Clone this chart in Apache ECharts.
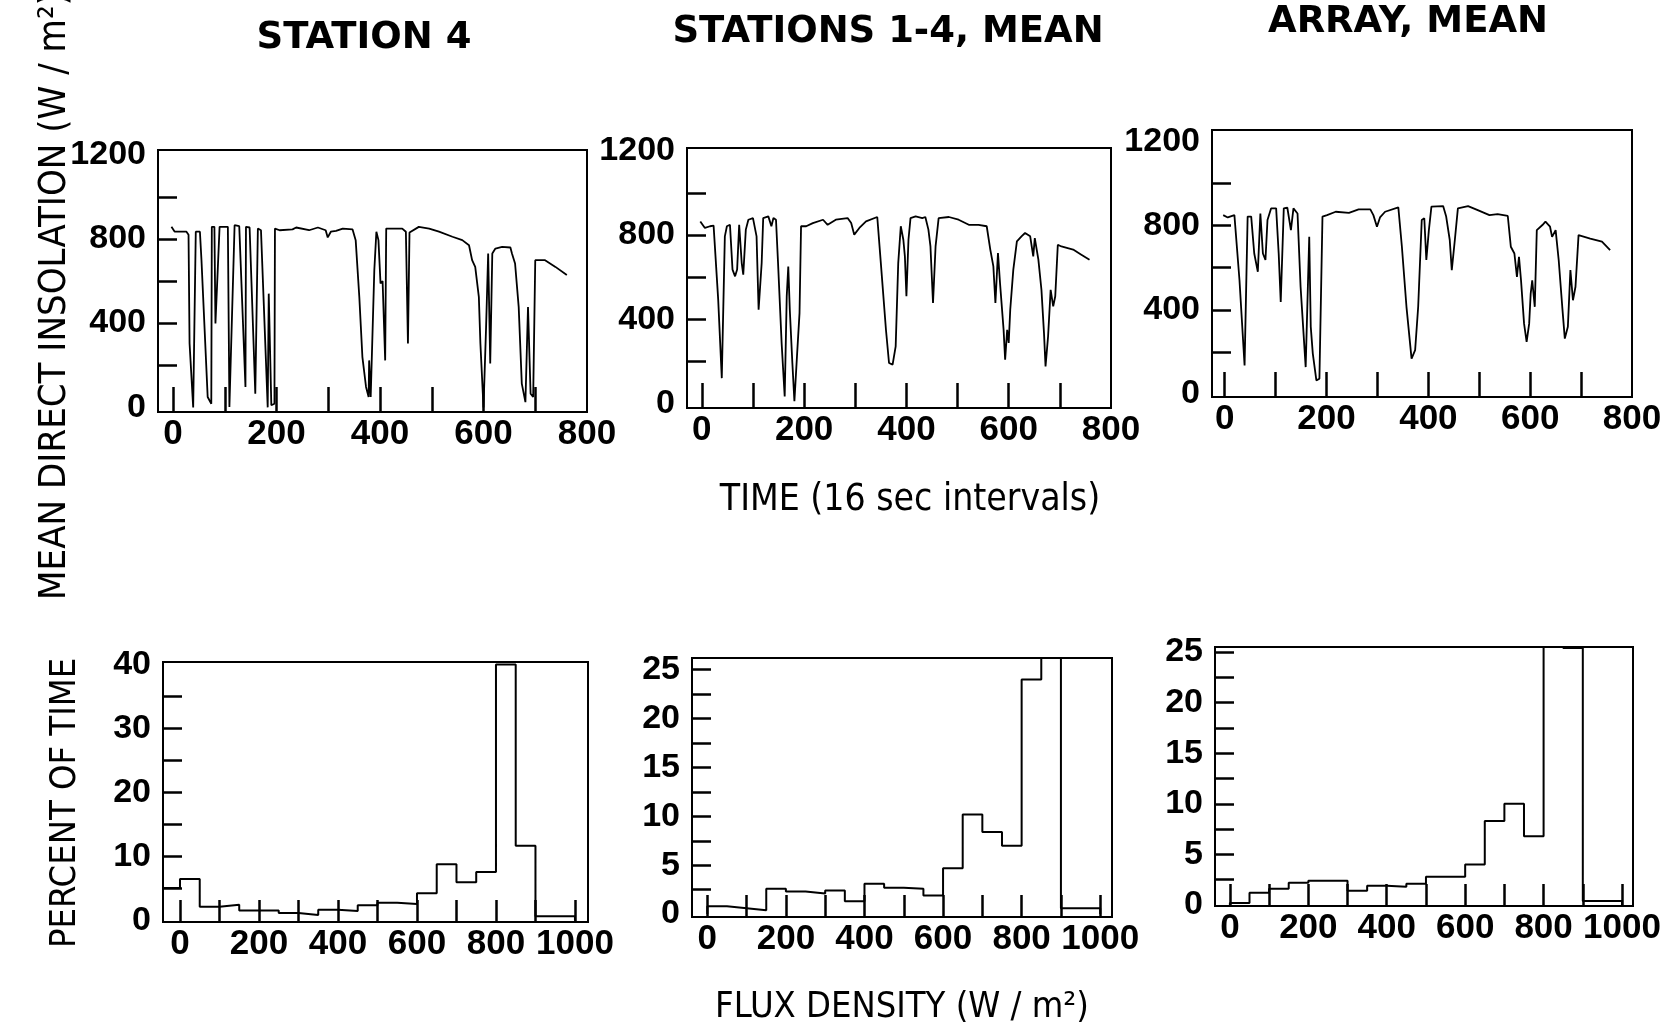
<!DOCTYPE html>
<html>
<head>
<meta charset="utf-8">
<script src="https://cdn.jsdelivr.net/npm/echarts@6.0.0/dist/echarts.min.js"></script>
<style>
  html, body { margin: 0; padding: 0; background: #fff; }
  #chart { width: 1668px; height: 1032px; }
</style>
</head>
<body>
<div id="chart"></div>
<script>
// time series, [interval, W/m2]
const station4 = [
  [-3, 857], [3, 835], [26, 834], [30, 820], [32, 303], [39, 0], [44, 834], [52, 834], [55, 700], [67, 49], [74, 17],
  [75, 857], [80, 857], [82, 398], [90, 857], [106, 857], [109, 2], [119, 865], [128, 860], [140, 97], [141, 857],
  [148, 854], [159, 65], [164, 849], [170, 841], [183, 0], [185, 540], [190, 10], [196, 17], [197, 849], [206, 841],
  [231, 845], [238, 854], [263, 841], [280, 854], [295, 841], [299, 807], [305, 834], [315, 838], [328, 849], [347, 845],
  [353, 794], [360, 525], [366, 239], [373, 97], [378, 49], [379, 223], [382, 49], [389, 651], [393, 834], [397, 794],
  [401, 588], [405, 600], [410, 223], [412, 849], [443, 849], [450, 834], [454, 303], [457, 830], [475, 857], [495, 849],
  [514, 834], [540, 810], [559, 794], [572, 770], [578, 699], [584, 667], [591, 525], [594, 303], [600, 0], [605, 382],
  [609, 731], [613, 208], [617, 731], [623, 754], [636, 762], [652, 759], [655, 731], [661, 683], [668, 477], [674, 113],
  [681, 25], [686, 477], [691, 65], [696, 49], [700, 699], [719, 699], [739, 667], [761, 628]
]
const stationsMean = [
  [-3, 865], [6, 834], [16, 842], [23, 845], [32, 493], [39, 120], [45, 794], [49, 842], [55, 849], [60, 636], [65, 604],
  [69, 636], [73, 849], [78, 667], [81, 612], [86, 826], [91, 873], [100, 881], [107, 794], [111, 445], [117, 667],
  [120, 881], [130, 889], [136, 842], [140, 881], [145, 873], [149, 667], [156, 287], [162, 33], [166, 509], [169, 651],
  [172, 445], [177, 192], [181, 10], [186, 223], [191, 429], [194, 842], [204, 842], [217, 857], [237, 873], [246, 849],
  [262, 873], [285, 881], [292, 857], [298, 802], [308, 834], [321, 865], [343, 886], [350, 667], [360, 350], [366, 192],
  [373, 184], [379, 271], [384, 667], [389, 842], [394, 778], [397, 699], [400, 509], [404, 778], [408, 881], [418, 889],
  [431, 881], [437, 886], [443, 826], [447, 746], [452, 477], [457, 746], [463, 881], [483, 886], [502, 873], [522, 849],
  [541, 849], [557, 842], [564, 731], [570, 651], [574, 477], [579, 715], [583, 572], [590, 350], [593, 208], [597, 350],
  [600, 287], [603, 445], [609, 636], [616, 770], [625, 794], [632, 810], [642, 794], [648, 699], [651, 786], [658, 683],
  [664, 540], [669, 334], [672, 176], [677, 319], [682, 540], [687, 461], [691, 509], [696, 754], [703, 746], [726, 731],
  [742, 707], [758, 683]
]
const arrayMean = [
  [-3, 849], [6, 838], [19, 849], [29, 540], [39, 136], [45, 842], [52, 842], [58, 667], [65, 580], [70, 857], [75, 667],
  [80, 636], [84, 826], [91, 881], [101, 881], [106, 667], [110, 437], [116, 881], [123, 884], [130, 778], [135, 881],
  [143, 857], [149, 509], [159, 128], [166, 746], [169, 319], [173, 192], [180, 65], [186, 73], [192, 842], [201, 849],
  [218, 865], [244, 860], [263, 876], [286, 876], [292, 849], [299, 794], [305, 838], [315, 865], [341, 886], [348, 699],
  [357, 414], [367, 168], [374, 208], [380, 414], [387, 826], [392, 834], [396, 636], [401, 778], [406, 889], [429, 892],
  [435, 842], [442, 731], [446, 588], [452, 731], [458, 881], [478, 892], [497, 873], [520, 849], [536, 854], [556, 845],
  [562, 699], [569, 667], [574, 556], [578, 651], [582, 540], [588, 334], [593, 247], [598, 334], [601, 477], [604, 540],
  [609, 414], [613, 778], [624, 802], [630, 818], [639, 794], [643, 746], [650, 778], [656, 636], [663, 414], [668, 263],
  [674, 319], [679, 588], [684, 445], [689, 509], [695, 754], [718, 738], [741, 723], [757, 683]
]

// histogram bins (W/m2 edges) and percent of time per bin, null = no bar
const binEdges = [-50, 0, 50, 100, 150, 200, 250, 300, 350, 400, 450, 500, 550, 600, 650, 700, 750, 800, 850, 900, 950, 1000]
const histStation4 = [5.1, 6.5, 2.2, 2.5, 1.6, 1.6, 1.2, 0.9, 1.7, 1.5, 2.4, 2.8, 2.6, 4.3, 8.8, 6.0, 7.6, 40, 11.7, 0.7, 0.7]
const histStationsMean = [null, 0.8, 0.6, 0.4, 2.6, 2.3, 2.1, 2.4, 1.3, 3.1, 2.7, 2.6, 1.9, 4.7, 10.2, 8.4, 7.0, 24.0, 26.3, 0.6, 0.6]
const histArrayMean = [null, 0.2, 1.2, 1.6, 2.2, 2.4, 2.4, 1.4, 1.9, 1.8, 2.1, 2.8, 2.8, 4.0, 8.3, 10.0, 6.8, 25.6, 25.4, 0.4, 0.4]

// ticks and labels
const timeTicks = [0, 100, 200, 300, 400, 500, 600, 700]
const timeLabels = [0, 200, 400, 600, 800]
const insolTicks = [200, 400, 600, 800, 1000]
const insolLabels = [0, 400, 800, 1200]
const fluxTicks = [0, 100, 200, 300, 400, 500, 600, 700, 800, 900, 1000]
const fluxLabels = [0, 200, 400, 600, 800, 1000]
const pct40Ticks = [5, 10, 15, 20, 25, 30, 35]
const pct40Labels = [0, 10, 20, 30, 40]
const pct25Ticks = [2.5, 5, 7.5, 10, 12.5, 15, 17.5, 20, 22.5, 25]
const pct25Labels = [0, 5, 10, 15, 20, 25]

const titles = ['STATION 4', 'STATIONS 1-4, MEAN', 'ARRAY, MEAN']

const LABEL_FONT = '"Liberation Sans", Arial, sans-serif'
const NAME_FONT = '"DejaVu Sans Condensed", "DejaVu Sans", sans-serif'

function stepLine(values) {
    const pts = []
    let started = false
    for (let i = 0; i < values.length; i++) {
        if (values[i] === null) continue
        if (!started) {
            pts.push([binEdges[i], 0])
            started = true
        }
        pts.push([binEdges[i], values[i]])
        pts.push([binEdges[i + 1], values[i]])
    }
    pts.push([binEdges[binEdges.length - 1], 0])
    return pts
}

const grids = [
    { left: 158, top: 150, width: 429, height: 262 },
    { left: 687, top: 148, width: 424, height: 260 },
    { left: 1212, top: 130, width: 420, height: 267 },
    { left: 163, top: 662, width: 425, height: 260 },
    { left: 692, top: 658, width: 420, height: 259 },
    { left: 1215, top: 647, width: 418, height: 259 }
]

const xRanges = [[-29, 800], [-29, 800], [-25, 800], [-43, 1033], [-39, 1030], [-38, 1028]]
const yRanges = [[-22, 1222], [-22, 1214], [-14, 1253], [-0.2, 40.4], [-0.3, 26.2], [-0.1, 25.5]]

function xAxis(i) {
    const top = i < 3
    return {
        type: 'value',
        gridIndex: i,
        min: xRanges[i][0],
        max: xRanges[i][1],
        axisLine: { show: false, onZero: false },
        splitLine: { show: false },
        axisTick: {
            show: true,
            inside: true,
            length: top ? 25 : 22,
            customValues: top ? timeTicks : fluxTicks,
            lineStyle: { color: '#000', width: 2.5 }
        },
        axisLabel: {
            customValues: top ? timeLabels : fluxLabels,
            formatter: v => String(v),
            hideOverlap: false,
            color: '#000',
            fontFamily: LABEL_FONT,
            fontWeight: 'bold',
            fontSize: 35,
            margin: 5
        }
    }
}

function yAxis(i) {
    let ticks, labels
    if (i < 3) {
        ticks = insolTicks
        labels = insolLabels
    } else if (i === 3) {
        ticks = pct40Ticks
        labels = pct40Labels
    } else {
        ticks = pct25Ticks
        labels = pct25Labels
    }
    return {
        type: 'value',
        gridIndex: i,
        min: yRanges[i][0],
        max: yRanges[i][1],
        axisLine: { show: false, onZero: false },
        splitLine: { show: false },
        axisTick: {
            show: true,
            inside: true,
            length: 19,
            customValues: ticks,
            lineStyle: { color: '#000', width: 2.5 }
        },
        axisLabel: {
            customValues: labels,
            formatter: v => String(v),
            hideOverlap: false,
            color: '#000',
            fontFamily: LABEL_FONT,
            fontWeight: 'bold',
            fontSize: 34,
            margin: 12
        }
    }
}

const seriesData = [
    station4, stationsMean, arrayMean,
    stepLine(histStation4), stepLine(histStationsMean), stepLine(histArrayMean)
]

function textEl(text, x, y, font, rotation) {
    return {
        type: 'text',
        x: x,
        y: y,
        rotation: rotation || 0,
        style: {
            text: text,
            font: font,
            fill: '#000',
            align: 'center',
            verticalAlign: 'middle',
            textAlign: 'center',
            textVerticalAlign: 'middle'
        }
    }
}

const chart = echarts.init(document.getElementById('chart'))
chart.setOption({
    animation: false,
    backgroundColor: '#fff',
    grid: grids.map(g => Object.assign({
        show: true,
        borderColor: '#000',
        borderWidth: 2,
        backgroundColor: 'transparent'
    }, g)),
    xAxis: grids.map((g, i) => xAxis(i)),
    yAxis: grids.map((g, i) => yAxis(i)),
    series: seriesData.map((d, i) => ({
        type: 'line',
        xAxisIndex: i,
        yAxisIndex: i,
        data: d,
        showSymbol: false,
        symbol: 'none',
        lineStyle: { color: '#000', width: i < 3 ? 1.8 : 2 },
        silent: true
    })),
    graphic: [
        textEl(titles[0], 364, 38, 'bold 37px "DejaVu Sans", sans-serif'),
        textEl(titles[1], 888, 32, 'bold 37px "DejaVu Sans", sans-serif'),
        textEl(titles[2], 1408, 22, 'bold 37px "DejaVu Sans", sans-serif'),
        textEl('MEAN DIRECT INSOLATION (W / m²)', 55, 296, '38px ' + NAME_FONT, Math.PI / 2),
        textEl('TIME (16 sec intervals)', 910, 500, '37px ' + NAME_FONT),
        textEl('PERCENT OF TIME', 66, 803, '36px ' + NAME_FONT, Math.PI / 2),
        textEl('FLUX DENSITY (W / m²)', 902, 1008, '36px ' + NAME_FONT)
    ]
})
</script>
</body>
</html>
